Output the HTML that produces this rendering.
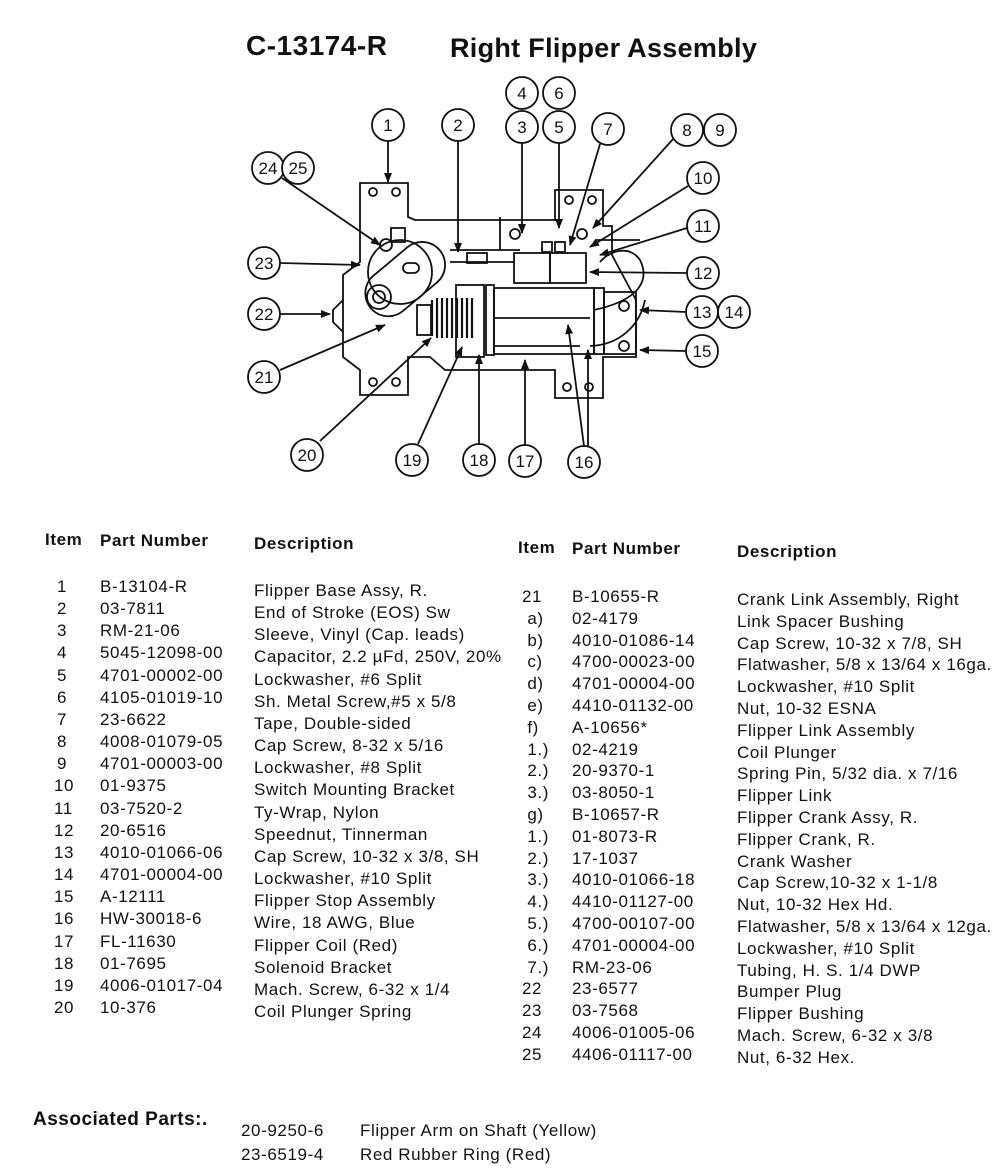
<!DOCTYPE html>
<html><head><meta charset="utf-8"><style>
body{margin:0;background:#fff;}
#p{position:relative;width:1000px;height:1170px;overflow:hidden;font-family:"Liberation Sans",sans-serif;color:#111;}
.t{position:absolute;white-space:nowrap;font-size:17px;letter-spacing:0.6px;line-height:16px;}
.b{font-weight:bold;}
</style></head><body><div id="p">
<div class="t b" style="left:246px;top:32px;font-size:28px;line-height:28px;letter-spacing:0.5px">C-13174-R</div>
<div class="t b" style="left:450px;top:34px;font-size:27px;line-height:28px;letter-spacing:0.3px">Right Flipper Assembly</div>

<svg width="1000" height="500" style="position:absolute;left:0;top:0" font-family="Liberation Sans" font-size="17" stroke="#111" fill="none" stroke-width="1.8">
<defs><marker id="a" markerWidth="10" markerHeight="8" refX="9" refY="4" orient="auto" markerUnits="userSpaceOnUse"><path d="M0,0L10,4L0,8z" fill="#111" stroke="none"/></marker></defs>
<path d="M360,183H408V217L415,220H555V190H603V226H612V255L636,300V357H603V398H555V370H445L430,357H408V395H360V370L343,357V275L360,262Z"/>
<circle cx="373" cy="192" r="4"/><circle cx="396" cy="192" r="4"/>
<circle cx="569" cy="200" r="4"/><circle cx="592" cy="200" r="4"/>
<circle cx="373" cy="382" r="4"/><circle cx="396" cy="382" r="4"/>
<circle cx="567" cy="387" r="4"/><circle cx="589" cy="387" r="4"/>
<path d="M343,300L333,310V322L343,332"/>
<circle cx="400" cy="272" r="32"/>
<rect x="366" y="262" width="90" height="46" rx="23" transform="rotate(-40 400 290)"/>
<circle cx="379" cy="297" r="12"/><circle cx="379" cy="297" r="6"/>
<circle cx="386" cy="245" r="6"/><rect x="391" y="228" width="14" height="14"/>
<rect x="403" y="263" width="16" height="10" rx="5"/>
<rect x="417" y="305" width="14" height="30"/>
<path d="M432,300V336M437,298V338M442,298V338M447,298V338M452,298V338M457,298V338M462,298V338M467,298V338M472,298V338" stroke-width="2.2"/>
<rect x="456" y="285" width="28" height="72"/>
<rect x="486" y="285" width="8" height="70"/>
<rect x="494" y="288" width="100" height="66"/>
<path d="M494,318H590M494,346H580"/>
<rect x="594" y="288" width="10" height="66"/>
<rect x="604" y="292" width="32" height="62"/>
<circle cx="624" cy="306" r="5"/><circle cx="624" cy="346" r="5"/>
<path d="M594,310C640,300 650,280 640,260C630,245 610,250 600,262" />
<path d="M590,346C620,345 640,325 645,300"/>
<rect x="514" y="253" width="36" height="30"/><rect x="550" y="253" width="36" height="30"/>
<path d="M450,250H520M450,262H515"/>
<rect x="467" y="253" width="20" height="10"/>
<circle cx="515" cy="234" r="5"/><circle cx="582" cy="234" r="5"/>
<rect x="542" y="242" width="10" height="10"/><rect x="555" y="242" width="10" height="10"/>
<path d="M500,217V250M595,240H640"/>
<g marker-end="url(#a)">
<path d="M388,141V182"/><path d="M458,141V252"/><path d="M522,143V233"/><path d="M559,143V228"/>
<path d="M600,144L570,245"/><path d="M674,138L593,228"/><path d="M688,186L590,247"/>
<path d="M687,228L600,255"/><path d="M687,273L590,272"/><path d="M686,312L640,310"/>
<path d="M686,351L640,350"/><path d="M280,263L360,265"/><path d="M280,314L330,314"/>
<path d="M280,370L385,325"/><path d="M282,178L380,245"/><path d="M320,441L431,338"/>
<path d="M418,444L462,347"/><path d="M479,444V355"/><path d="M525,445V360"/>
<path d="M584,446L568,325"/><path d="M588,446L588,350"/>
</g>
<g fill="#fff">
<circle cx="388" cy="125" r="16"/><circle cx="458" cy="125" r="16"/><circle cx="522" cy="93" r="16"/><circle cx="559" cy="93" r="16"/>
<circle cx="522" cy="127" r="16"/><circle cx="559" cy="127" r="16"/><circle cx="608" cy="129" r="16"/><circle cx="687" cy="130" r="16"/>
<circle cx="720" cy="130" r="16"/><circle cx="703" cy="178" r="16"/><circle cx="703" cy="226" r="16"/><circle cx="703" cy="273" r="16"/>
<circle cx="702" cy="312" r="16"/><circle cx="734" cy="312" r="16"/><circle cx="702" cy="351" r="16"/><circle cx="584" cy="462" r="16"/>
<circle cx="525" cy="461" r="16"/><circle cx="479" cy="460" r="16"/><circle cx="412" cy="460" r="16"/><circle cx="307" cy="455" r="16"/>
<circle cx="264" cy="377" r="16"/><circle cx="264" cy="314" r="16"/><circle cx="264" cy="263" r="16"/><circle cx="268" cy="168" r="16"/><circle cx="298" cy="168" r="16"/>
</g>
<g fill="#111" stroke="none" text-anchor="middle">
<text x="388" y="131">1</text><text x="458" y="131">2</text><text x="522" y="99">4</text><text x="559" y="99">6</text>
<text x="522" y="133">3</text><text x="559" y="133">5</text><text x="608" y="135">7</text><text x="687" y="136">8</text>
<text x="720" y="136">9</text><text x="703" y="184">10</text><text x="703" y="232">11</text><text x="703" y="279">12</text>
<text x="702" y="318">13</text><text x="734" y="318">14</text><text x="702" y="357">15</text><text x="584" y="468">16</text>
<text x="525" y="467">17</text><text x="479" y="466">18</text><text x="412" y="466">19</text><text x="307" y="461">20</text>
<text x="264" y="383">21</text><text x="264" y="320">22</text><text x="264" y="269">23</text><text x="268" y="174">24</text><text x="298" y="174">25</text>
</g>
</svg>

<div class="t b" style="left:45px;top:532px">Item</div>
<div class="t b" style="left:100px;top:533px">Part Number</div>
<div class="t b" style="left:254px;top:536px">Description</div>
<div class="t b" style="left:518px;top:540px">Item</div>
<div class="t b" style="left:572px;top:541px">Part Number</div>
<div class="t b" style="left:737px;top:544px">Description</div>

<div class="t" style="left:54px;top:576px;line-height:22.15px;text-align:center;width:16px">1<br>2<br>3<br>4<br>5<br>6<br>7<br>8<br>9<br>10<br>11<br>12<br>13<br>14<br>15<br>16<br>17<br>18<br>19<br>20</div>
<div class="t" style="left:100px;top:576px;line-height:22.15px">B-13104-R<br>03-7811<br>RM-21-06<br>5045-12098-00<br>4701-00002-00<br>4105-01019-10<br>23-6622<br>4008-01079-05<br>4701-00003-00<br>01-9375<br>03-7520-2<br>20-6516<br>4010-01066-06<br>4701-00004-00<br>A-12111<br>HW-30018-6<br>FL-11630<br>01-7695<br>4006-01017-04<br>10-376</div>
<div class="t" style="left:254px;top:580px;line-height:22.15px">Flipper Base Assy, R.<br>End of Stroke (EOS) Sw<br>Sleeve, Vinyl (Cap. leads)<br>Capacitor, 2.2 µFd, 250V, 20%<br>Lockwasher, #6 Split<br>Sh. Metal Screw,#5 x 5/8<br>Tape, Double-sided<br>Cap Screw, 8-32 x 5/16<br>Lockwasher, #8 Split<br>Switch Mounting Bracket<br>Ty-Wrap, Nylon<br>Speednut, Tinnerman<br>Cap Screw, 10-32 x 3/8, SH<br>Lockwasher, #10 Split<br>Flipper Stop Assembly<br>Wire, 18 AWG, Blue<br>Flipper Coil (Red)<br>Solenoid Bracket<br>Mach. Screw, 6-32 x 1/4<br>Coil Plunger Spring</div>

<div class="t" style="left:522px;top:586px;line-height:21.8px">21<br>&nbsp;a)<br>&nbsp;b)<br>&nbsp;c)<br>&nbsp;d)<br>&nbsp;e)<br>&nbsp;f)<br>&nbsp;1.)<br>&nbsp;2.)<br>&nbsp;3.)<br>&nbsp;g)<br>&nbsp;1.)<br>&nbsp;2.)<br>&nbsp;3.)<br>&nbsp;4.)<br>&nbsp;5.)<br>&nbsp;6.)<br>&nbsp;7.)<br>22<br>23<br>24<br>25</div>
<div class="t" style="left:572px;top:586px;line-height:21.8px">B-10655-R<br>02-4179<br>4010-01086-14<br>4700-00023-00<br>4701-00004-00<br>4410-01132-00<br>A-10656*<br>02-4219<br>20-9370-1<br>03-8050-1<br>B-10657-R<br>01-8073-R<br>17-1037<br>4010-01066-18<br>4410-01127-00<br>4700-00107-00<br>4701-00004-00<br>RM-23-06<br>23-6577<br>03-7568<br>4006-01005-06<br>4406-01117-00</div>
<div class="t" style="left:737px;top:589px;line-height:21.8px">Crank Link Assembly, Right<br>Link Spacer Bushing<br>Cap Screw, 10-32 x 7/8, SH<br>Flatwasher, 5/8 x 13/64 x 16ga.<br>Lockwasher, #10 Split<br>Nut, 10-32 ESNA<br>Flipper Link Assembly<br>Coil Plunger<br>Spring Pin, 5/32 dia. x 7/16<br>Flipper Link<br>Flipper Crank Assy, R.<br>Flipper Crank, R.<br>Crank Washer<br>Cap Screw,10-32 x 1-1/8<br>Nut, 10-32 Hex Hd.<br>Flatwasher, 5/8 x 13/64 x 12ga.<br>Lockwasher, #10 Split<br>Tubing, H. S. 1/4 DWP<br>Bumper Plug<br>Flipper Bushing<br>Mach. Screw, 6-32 x 3/8<br>Nut, 6-32 Hex.</div>

<div class="t b" style="left:33px;top:1110px;font-size:19px;line-height:19px;letter-spacing:0.5px">Associated Parts:.</div>
<div class="t" style="left:241px;top:1119px;line-height:24px">20-9250-6<br>23-6519-4</div>
<div class="t" style="left:360px;top:1119px;line-height:24px">Flipper Arm on Shaft (Yellow)<br>Red Rubber Ring (Red)</div>
</div></body></html>
